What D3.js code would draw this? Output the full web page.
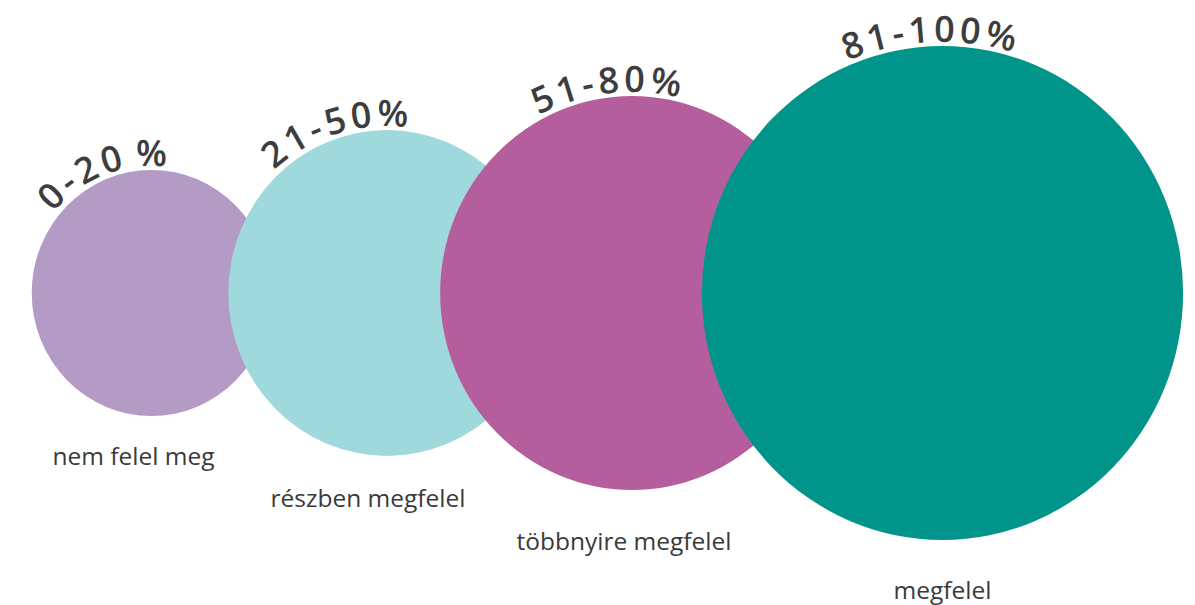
<!DOCTYPE html>
<html>
<head>
<meta charset="utf-8">
<script src="https://cdn.jsdelivr.net/npm/d3@7"></script>
<style>
  body { margin: 0; background: #fff; }
  svg { display: block; }
</style>
</head>
<body>
<svg width="1195" height="605"></svg>
<script>
var WIDTH = 1195;
var HEIGHT = 605;

// data
var ranges = ['0-20 %', '21-50%', '51-80%', '81-100%'];
var labels = ['nem felel meg', 'részben megfelel', 'többnyire megfelel', 'megfelel'];
var weights = [24.8, 43.5, 63.6, 100]; // bubble size (area)
var colors = ['#b39bc6', '#9fd9db', '#b55e9e', '#00948a'];

// layout
var r = d3.scaleSqrt().domain([0, 100]).range([0, 247]);
var x = d3.scaleLinear().domain([0, 1, 2, 3]).range([151.5, 387, 632, 942.5]);
var cy = 293;
var squeeze = 0.974; // the picture is a bit narrower than tall
var arcAngle = [-21, -17, -6.5, -2.5]; // where the curved label sits, degrees from top
var labelDx = [-18, -19, -8, 0];
var labelDy = [-5, -3, 6, 5];

var dataset = ranges.map(function(d, i) {
    return { id: i, range: d, label: labels[i], weight: weights[i], color: colors[i] };
});

var svg = d3.select('svg')
    .attr('width', WIDTH)
    .attr('height', HEIGHT);

var defs = svg.append('defs');

// curved guide paths, left -> top -> right
defs.selectAll('path')
    .data(dataset)
    .enter()
    .append('path')
    .attr('id', function(d) { return 'arc' + d.id; })
    .attr('d', function(d) {
        var p = d3.path();
        var R = r(d.weight) + 4;
        p.arc(x(d.id), cy, R, -Math.PI, 0, false);
        return p.toString();
    });

var g = svg.selectAll('g.bubble')
    .data(dataset)
    .enter()
    .append('g')
    .attr('class', 'bubble');

g.append('ellipse')
    .attr('cx', function(d) { return x(d.id); })
    .attr('cy', cy)
    .attr('rx', function(d) { return r(d.weight) * squeeze; })
    .attr('ry', function(d) { return r(d.weight); })
    .attr('fill', function(d) { return d.color; });

g.append('text')
    .attr('font-family', '"Open Sans", sans-serif')
    .attr('font-weight', 600)
    .attr('font-size', 36)
    .attr('letter-spacing', 4)
    .attr('word-spacing', -6)
    .attr('fill', '#3d3d3d')
    .append('textPath')
    .attr('href', function(d) { return '#arc' + d.id; })
    .attr('startOffset', function(d) { return ((90 + arcAngle[d.id]) / 180 * 100) + '%'; })
    .attr('text-anchor', 'middle')
    .text(function(d) { return d.range; });

g.append('text')
    .attr('x', function(d) { return x(d.id) + labelDx[d.id]; })
    .attr('y', function(d) { return cy + r(d.weight) + 54 + labelDy[d.id]; })
    .attr('text-anchor', 'middle')
    .attr('font-family', '"Open Sans", sans-serif')
    .attr('font-size', 24.5)
    .attr('fill', '#3a3a3a')
    .text(function(d) { return d.label; });
</script>
</body>
</html>
